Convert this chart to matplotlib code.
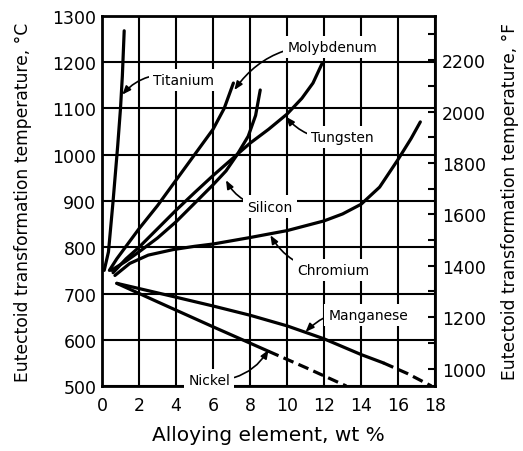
import numpy as np
import matplotlib.pyplot as plt

plt.rcParams['font.family'] = 'DejaVu Sans'

# wt % alloying element vs eutectoid temperature (deg C)
ti_x = [0.12, 0.35, 0.6, 0.85, 1.0, 1.1, 1.2]
ti_t = [750, 790, 900, 1020, 1100, 1170, 1268]
mo_x = [0.4, 0.8, 2, 3, 4, 5, 6, 6.6, 7.1]
mo_t = [750, 775, 840, 890, 945, 1000, 1055, 1100, 1155]
si_x = [0.5, 1.3, 2, 3, 4, 5, 6, 6.7, 7.3, 7.9, 8.3, 8.55]
si_t = [750, 770, 790, 820, 855, 895, 935, 965, 1000, 1040, 1085, 1140]
w_x = [0.6, 1.3, 2, 3, 4, 5, 6, 7, 8, 9, 10, 10.8, 11.4, 11.9]
w_t = [745, 775, 800, 840, 880, 918, 955, 990, 1025, 1055, 1088, 1122, 1155, 1198]
cr_x = [0.7, 1.5, 2.5, 3.85, 5, 6, 8, 10, 12, 13, 14, 15, 16, 16.7, 17.2]
cr_t = [739, 765, 783, 795, 802, 807, 821, 836, 857, 872, 893, 930, 990, 1035, 1071]
mn_x = [0.8, 4, 6, 8, 10, 12, 14, 15.2]
mn_t = [722, 692, 673, 653, 630, 602, 568, 550]
mn_dash_x = [15.2, 16.5, 17.8]
mn_dash_t = [550, 527, 500]
ni_x = [0.8, 3, 6, 9]
ni_t = [722, 682, 628, 575]
ni_dash_x = [9, 11, 13.2]
ni_dash_t = [575, 540, 500]

fig = plt.figure(figsize=(5.23, 4.52), dpi=100)
ax = fig.add_axes([0.195, 0.1438, 0.637, 0.8186])

ax.set_xlim(0, 18)
ax.set_ylim(500, 1300)
ax.set_xticks(np.arange(0, 19, 2))
ax.set_yticks(np.arange(500, 1301, 100))
ax.tick_params(length=0, labelsize=12.5)
ax.tick_params(axis='x', pad=7)
ax.tick_params(axis='y', pad=4)
ax.grid(True, color='black', lw=1.5, zorder=1)
ax.set_axisbelow(True)
for s in ax.spines.values():
    s.set_linewidth(2)

lw = 2.3
dash = (0, (3.4, 1.7))
kw = dict(color='black', lw=lw, solid_capstyle='round', solid_joinstyle='round', zorder=4)
ax.plot(ti_x, ti_t, **kw)
ax.plot(mo_x, mo_t, **kw)
ax.plot(si_x, si_t, **kw)
ax.plot(w_x, w_t, **kw)
ax.plot(cr_x, cr_t, **kw)
ax.plot(mn_x, mn_t, **kw)
ax.plot(ni_x, ni_t, **kw)
ax.plot(mn_dash_x, mn_dash_t, color='black', lw=lw, ls=dash, zorder=4)
ax.plot(ni_dash_x, ni_dash_t, color='black', lw=lw, ls=dash, zorder=4)

box = dict(facecolor='white', edgecolor='none', pad=3)
arrow = dict(arrowstyle='-|>,head_length=0.5,head_width=0.2', color='black',
             lw=1.2, shrinkA=0, shrinkB=0)

# name, text centre, arrow tip, arc bend
labels = [
    ('Titanium', (4.4, 1162), (1.1, 1130), 0.35),
    ('Molybdenum', (12.46, 1233), (7.15, 1140), 0.3),
    ('Tungsten', (13.0, 1039), (9.95, 1082), -0.3),
    ('Silicon', (9.08, 888), (6.7, 945), -0.3),
    ('Chromium', (12.5, 751), (9.1, 826), -0.3),
    ('Manganese', (14.4, 654), (11.0, 617), 0.3),
    ('Nickel', (5.8, 513), (9.0, 578), 0.3),
]
for name, txt, tip, rad in labels:
    ax.annotate(name, xy=tip, xytext=txt, fontsize=10, ha='center', va='center',
                bbox=box, zorder=5,
                arrowprops=dict(arrow, connectionstyle='arc3,rad=%s' % rad))

ax.set_xlabel('Alloying element, wt %', fontsize=14.5, labelpad=8)
ax.set_ylabel('Eutectoid transformation temperature, °C', fontsize=12.3, labelpad=15)

# Fahrenheit scale on the right
ax2 = ax.twinx()
ax2.set_ylim(500 * 9 / 5 + 32, 1300 * 9 / 5 + 32)
ax2.set_yticks(np.arange(1000, 2201, 200))
ax2.set_yticks(np.arange(1100, 2301, 200), minor=True)
ax2.tick_params(which='both', direction='in', length=5, width=1.5, labelsize=12.5, pad=5)
for s in ax2.spines.values():
    s.set_visible(False)
ax2.set_ylabel('Eutectoid transformation temperature, °F', fontsize=12.3, labelpad=11)

fig.savefig('out.png', dpi=100)
